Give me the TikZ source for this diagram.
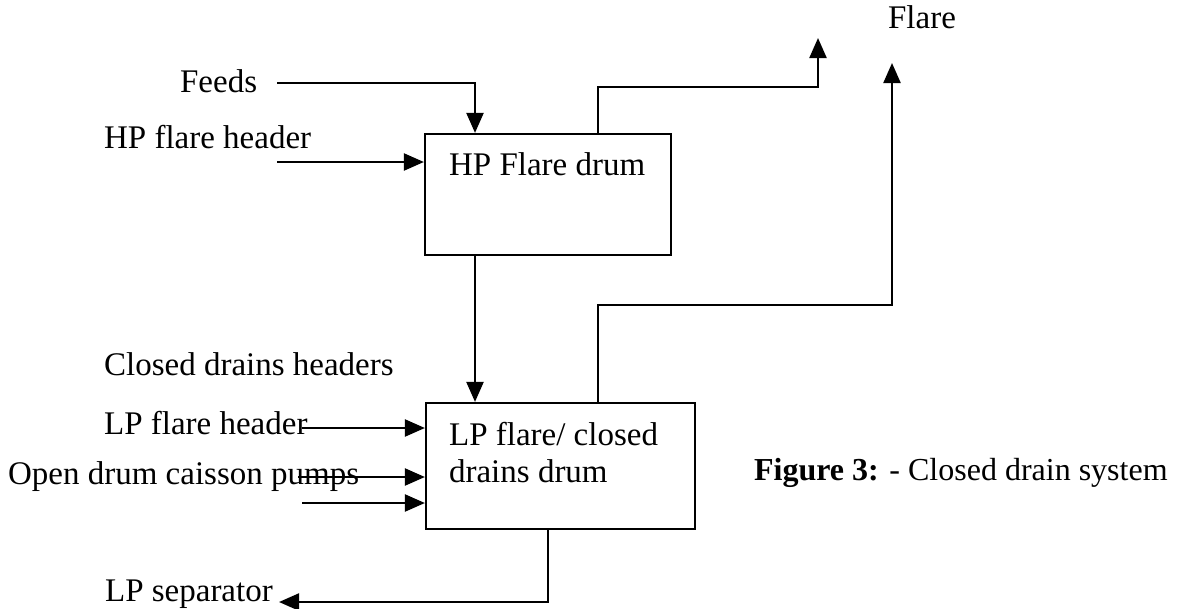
\documentclass[tikz,border=0pt]{standalone}
\usepackage{fontspec}
\setmainfont{Liberation Serif}
\usetikzlibrary{arrows.meta}
\begin{document}
\begin{tikzpicture}[x=1pt,y=-1pt,
  font=\fontsize{33}{38}\selectfont,
  line width=2.2pt,
  arr/.style={-{Triangle[length=20pt,width=17pt]}},
  drum/.style={draw,line width=2.2pt,rectangle,inner sep=0pt},
  lbl/.style={anchor=base west,inner sep=0pt}]
\useasboundingbox (0,0) rectangle (1182,608);
% boxes
\node[drum,minimum width=246pt,minimum height=121pt] (hp) at (548,194.5) {};
\node[drum,minimum width=269pt,minimum height=126pt] (lp) at (560.5,466) {};
% labels
\node[lbl] (feeds) at (179,92) {Feeds};
\node[lbl] (hph) at (103,148) {HP flare header};
\node[lbl] (hpt) at (448,175) {HP Flare drum};
\node[lbl] (flare) at (887,28) {Flare};
\node[lbl] (cdh) at (103,375) {Closed drains headers};
\node[lbl] (lph) at (103,434) {LP flare header};
\node[lbl] (odc) at (7,484) {Open drum caisson pumps};
\node[lbl] (lpt1) at (448,445) {LP flare/ closed};
\node[lbl] (lpt2) at (448,482) {drains drum};
\node[lbl] (lps) at (104,601) {LP separator};
\node[lbl,font=\fontsize{32}{38}\selectfont] (cap) at (753,480) {\textbf{Figure 3:} - Closed drain system};
% coordinates
\coordinate (feedsS) at (277,83);
\coordinate (hpin) at (277,162);
\coordinate (lpin1) at (302,428);
\coordinate (lpin2) at (298,477);
\coordinate (lpin3) at (302,503);
\coordinate (fl1) at (818,38);
\coordinate (fl2) at (892,63);
\coordinate (lpsep) at (279,602);
% connectors
\draw[arr] (feedsS) -| ([xshift=-73pt]hp.north);
\draw[arr] (hpin) -- (hpin -| hp.west);
\draw[arr] ([xshift=50pt]hp.north) |- (818,87) -- (fl1);
\draw[arr] ([xshift=-73pt]hp.south) -- ([xshift=-85.5pt]lp.north);
\draw[arr] ([xshift=37.5pt]lp.north) |- (892,305) -- (fl2);
\draw[arr] (lpin1) -- (lpin1 -| lp.west);
\draw[arr] (lpin2) -- (lpin2 -| lp.west);
\draw[arr] (lpin3) -- (lpin3 -| lp.west);
\draw[arr] ([xshift=-12.5pt]lp.south) |- (lpsep);
\end{tikzpicture}
\end{document}
